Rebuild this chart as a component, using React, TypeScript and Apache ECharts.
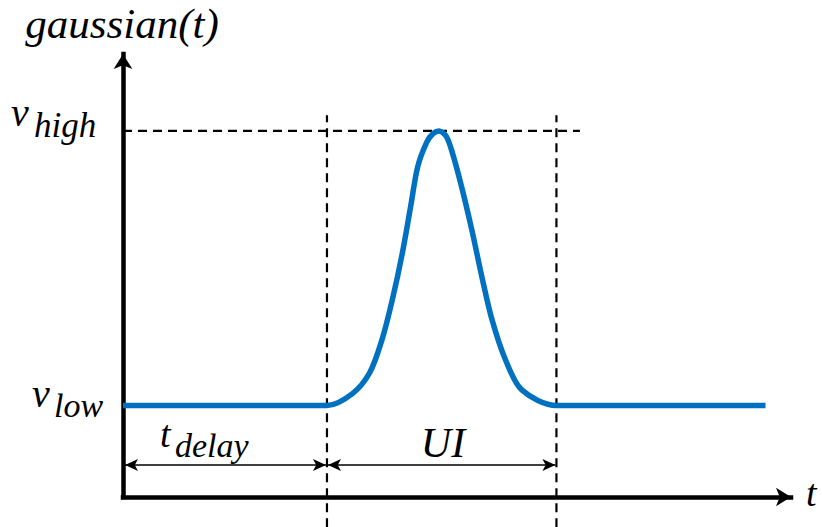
import React, { useEffect, useRef } from "react";
import * as echarts from "echarts";

// Signal levels and timing (arbitrary units)
const vLow = 1;
const vHigh = 4;
const tDelay = 2;
const ui = 2.25;
const tEnd = 6.3;

// Pulse samples (t, value) across the UI window
const pulseT = [2.0, 2.25, 2.42, 2.54, 2.64, 2.74, 2.82, 2.89, 2.98, 3.04, 3.1, 3.17, 3.23, 3.32, 3.42, 3.52, 3.62, 3.75, 3.91, 4.25];
const pulseV = [1.0, 1.13, 1.36, 1.72, 2.15, 2.67, 3.17, 3.61, 3.88, 3.97, 4.0, 3.94, 3.76, 3.39, 2.92, 2.4, 1.93, 1.5, 1.17, 1.0];

// Annotation level for the span arrows and extent of the guide lines
const spanLevel = 0.35;
const guideBottom = -0.33;
const guideTop = 4.17;
const highGuideEnd = 4.48;

const X_MAX = 6.55;
const Y_MAX = 4.84;

const BLUE = "#0070C0";
const MATH_FONT = "'Liberation Serif', serif";

export default function App() {
  const ref = useRef<HTMLDivElement>(null);

  useEffect(() => {
    if (!ref.current) return;
    const chart = echarts.init(ref.current, undefined, { renderer: "svg" });

    const signal: number[][] = [[0, vLow]];
    pulseT.forEach((t, i) => signal.push([t, pulseV[i]]));
    signal.push([tEnd, vLow]);

    const dashed = {
      color: "#000",
      width: 2.2,
      type: [9, 6] as any,
    };

    const guide = (data: number[][]) => ({
      type: "line",
      data,
      symbol: "none",
      clip: false,
      silent: true,
      lineStyle: dashed,
      z: 1,
    });

    const mathText = (
      text: string,
      x: number,
      y: number,
      size: number,
      align: string = "left"
    ) => ({
      type: "text",
      x,
      y,
      silent: true,
      style: {
        text,
        fill: "#000",
        font: `italic ${size}px ${MATH_FONT}`,
        align,
        verticalAlign: "middle",
      },
    });

    const axisLine = {
      show: true,
      symbol: ["none", "arrow"],
      symbolSize: [14, 15],
      lineStyle: { color: "#000", width: 4.5, cap: "square" },
    };

    chart.setOption({
      animation: false,
      grid: { left: 123, right: 31, top: 54, bottom: 30 },
      xAxis: {
        type: "value",
        min: 0,
        max: X_MAX,
        axisLine,
        axisTick: { show: false },
        axisLabel: { show: false },
        splitLine: { show: false },
      },
      yAxis: {
        type: "value",
        min: 0,
        max: Y_MAX,
        axisLine,
        axisTick: { show: false },
        axisLabel: { show: false },
        splitLine: { show: false },
      },
      series: [
        guide([[tDelay, guideBottom], [tDelay, guideTop]]),
        guide([[tDelay + ui, guideBottom], [tDelay + ui, guideTop]]),
        guide([[0, vHigh], [highGuideEnd, vHigh]]),
        {
          type: "line",
          data: signal,
          symbol: "none",
          smooth: 0.3,
          silent: true,
          lineStyle: { color: BLUE, width: 5.5 },
          z: 3,
          markLine: {
            silent: true,
            symbol: ["arrow", "arrow"],
            symbolSize: [9, 13],
            label: { show: false },
            lineStyle: { color: "#000", width: 1.6, type: "solid" },
            emphasis: { disabled: true },
            data: [
              [{ coord: [0.02, spanLevel] }, { coord: [tDelay - 0.01, spanLevel] }],
              [{ coord: [tDelay + 0.01, spanLevel] }, { coord: [tDelay + ui - 0.01, spanLevel] }],
            ],
          },
        },
      ],
      graphic: [
        mathText("gaussian(t)", 122, 23, 43, "center"),
        mathText("v", 11, 112, 40),
        mathText("high", 34, 125, 35),
        mathText("v", 32, 393, 40),
        mathText("low", 54, 405, 34),
        mathText("t", 160, 434, 38),
        mathText("delay", 175, 445, 34),
        mathText("UI", 443, 443, 42, "center"),
        mathText("t", 806, 493, 38),
      ],
    });

    return () => chart.dispose();
  }, []);

  return (
    <div
      ref={ref}
      style={{ position: "absolute", left: 0, top: 0, width: 822, height: 527 }}
    />
  );
}
